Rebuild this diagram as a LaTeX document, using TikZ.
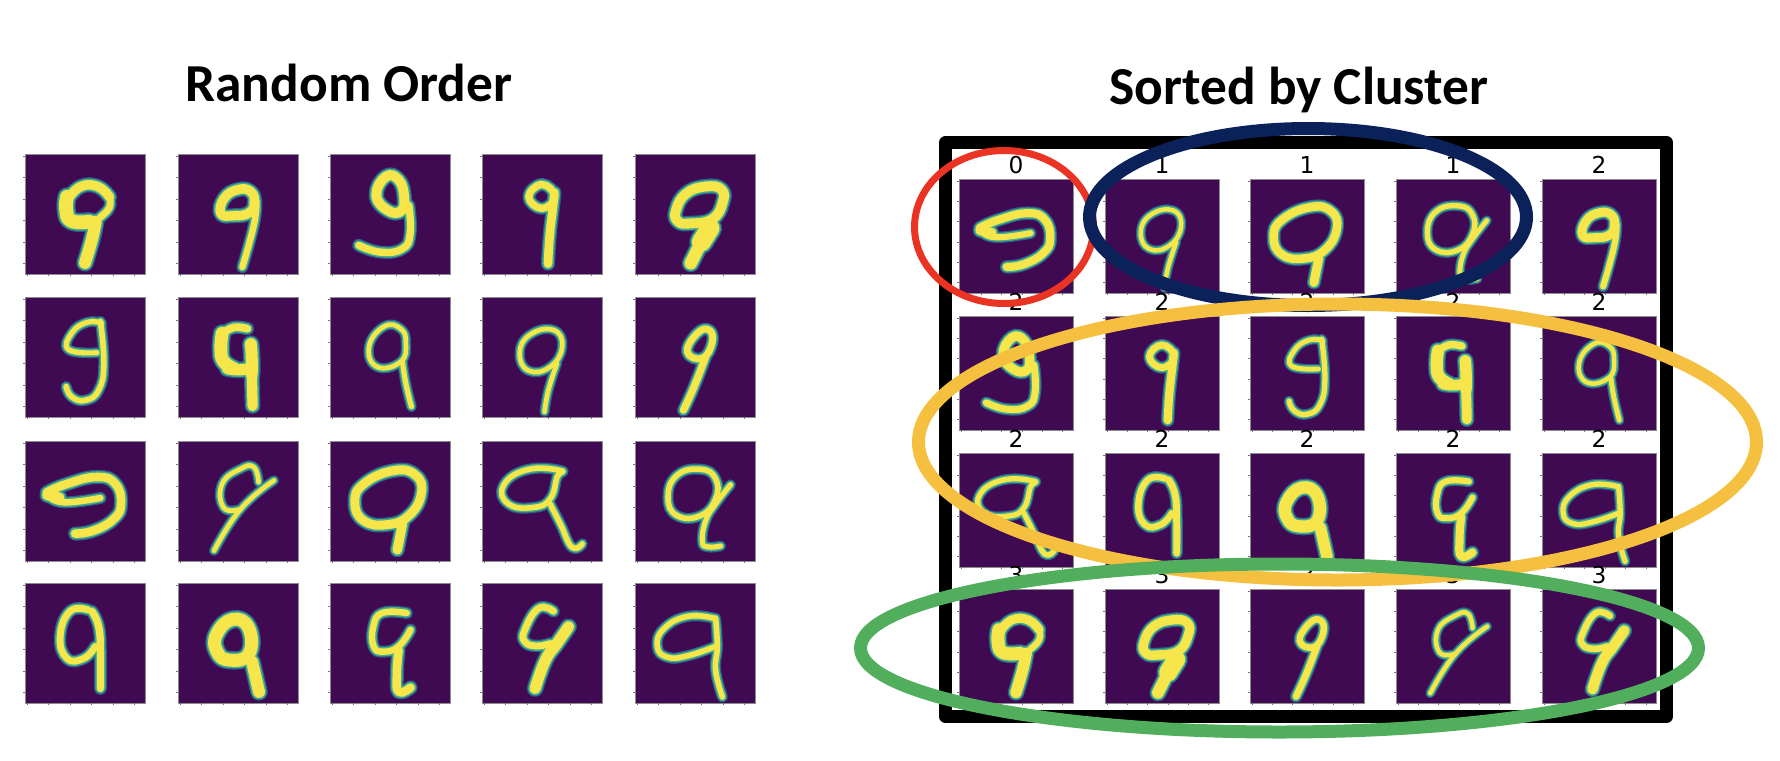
\documentclass[tikz,border=0pt]{standalone}
\usepackage{fontspec}
\setmainfont{Carlito}
\newfontfamily\tickfont{DejaVu Sans}
\definecolor{ninebg}{HTML}{3F0A51}
\definecolor{nineblue}{HTML}{34588C}
\definecolor{nineteal}{HTML}{3FAE8C}
\definecolor{nineyel}{HTML}{F6E64B}
\definecolor{ringred}{HTML}{EA3323}
\definecolor{ringnavy}{HTML}{0A2259}
\definecolor{ringyel}{HTML}{F5C040}
\definecolor{ringgreen}{HTML}{50AE5C}
\tikzset{
  title/.style={font=\fontsize{26.7}{30}\selectfont\bfseries,anchor=base},
  clusterlabel/.style={font=\fontsize{11.65}{14}\selectfont\tickfont,anchor=base,inner sep=0pt},
  ring/.style={line width=6.5pt},
  tickmark/.style={line width=.35pt,color=black!55},
  stroke/.style={line width=(#1+\dgadd)*\cellw,color=\dgcol,line join=round,line cap=round},
}
% one stroke of a digit: width, then points (28 cells a side, y downwards)
\newcommand{\dg}[2]{\draw[stroke=#1] plot[smooth,tension=.8] coordinates {#2};}
% the same, closed
\newcommand{\dgo}[2]{\draw[stroke=#1] plot[smooth cycle,tension=.8] coordinates {#2};}
\newcommand{\digitpanel}[4]{%
  \begin{scope}[shift={(#1,#2)},x=#3/56*1pt,y=-#3/56*1pt]
    \pgfmathsetlengthmacro{\cellw}{#3/56*1pt}
    \fill[ninebg] (0,0) rectangle (28,28);
    \draw[line width=.3pt,color=black!45] (0,0) rectangle (28,28);
    \foreach \k in {.5,5.5,10.5,15.5,20.5,25.5}{
      \draw[tickmark] (\k,28) -- (\k,28.5);
      \draw[tickmark] (0,\k) -- (-.5,\k);
    }
    \begin{scope}
      \clip (0,0) rectangle (28,28);
      \foreach \dgadd/\dgcol in {.3/nineblue,-.3/nineteal,-1/nineyel}{\csname #4\endcsname}
    \end{scope}
  \end{scope}}
% digits, named by row and column of the random grid
\newcommand{\nineaa}{\dg{3.2}{(19.7,10) (17,7.6) (13,7.6) (10,10.5)}\dg{4.2}{(9.8,10) (9.6,13) (10.8,15.6) (15,15.8)}\dg{2.6}{(19.7,10) (19.7,12.5) (17.5,14.8)}\dg{3.8}{(14,25.4) (15.6,20) (16.5,15.8)}}
\newcommand{\nineab}{\dg{2.5}{(15,26.4) (16.6,20.9) (18,15) (18.3,11)}\dgo{3.2}{(10,13.9) (10.8,10.3) (14,8.3) (17,8.8) (17.8,11.5) (16.5,13.8) (13,14.4)}}
\newcommand{\nineac}{\dgo{3.3}{(13.4,13.1) (10.8,9.6) (13,5.3) (16,6) (17.3,10) (16.6,13.3)}\dg{2.7}{(18.4,12) (18.7,18.6) (16.9,22.1) (11.8,22.9) (6.7,21.3)}}
\newcommand{\ninead}{\dgo{2.7}{(14,7.1) (10.9,10) (14,12.7) (17,10)}\dg{3}{(15.4,25.6) (15.8,19) (16.6,12) (16.9,9)}}
\newcommand{\nineae}{\dgo{3.3}{(9.6,13) (12,9.2) (16.5,7.6) (20.2,8.3) (20.4,11.5) (18,15.2) (13,16.2) (10,15.7)}\dg{3.9}{(13,25.5) (15,21.5)}\dg{5.4}{(15.5,20.5) (17.5,17.3)}}
\newcommand{\nineba}{\dg{2.2}{(17.9,6.1) (14.5,5.9) (10.9,8.4) (10.2,12.3) (16.8,13)}\dg{2.3}{(17.6,5.7) (18.4,15.5) (17.2,21.7) (14.1,24.1) (10.9,23.3) (9.6,20.9)}}
\newcommand{\ninebb}{\dg{2.8}{(16.2,7.4) (13,7.1) (10.5,8.5)}\dg{4}{(10.3,8.5) (10,12) (10.6,15) (13,16.7)}\dg{3.6}{(11.5,16.7) (14,17) (17,16.7)}\dg{3.8}{(17,11) (17.2,14) (17.2,18)}\dg{3.4}{(17.2,17) (17.4,25.4)}}
\newcommand{\ninebc}{\dgo{2.1}{(12.6,6.9) (9.1,11.6) (11,16.3) (16.5,15.1) (17.7,10.8) (16.5,7.4)}\dg{2.2}{(16.9,15.1) (17.7,20.2) (19,25.6)}}
\newcommand{\ninebd}{\dgo{2.1}{(16.7,7.7) (11.2,8.8) (8.8,13.1) (10.9,17.2) (15.9,16.3) (18.7,11.6)}\dg{2.1}{(17.5,15.5) (15.5,21.7) (14.6,26.8)}}
\newcommand{\ninebe}{\dgo{2.6}{(17.3,7.7) (14.5,8.5) (12.2,12.8) (15.7,14.3) (18,10.7)}\dg{2.7}{(16.5,13.9) (13.8,20.9) (11.3,26.4)}}
\newcommand{\nineca}{\dg{3}{(5.1,12) (9.8,10) (16.8,8.4) (21.1,10) (22.4,14.7) (20.7,18.2) (16,20.9) (11.7,21.6)}\dg{2.5}{(5.4,12.7) (9,14.3) (17.6,13.3)}\dg{3.4}{(5.2,12.6) (8,13.2)}}
\newcommand{\ninecb}{\dg{2.1}{(8.4,25.6) (14.6,15.9) (22.4,9.2)}\dg{2.1}{(14.6,15.9) (10.7,15.6) (10.3,10) (14.6,6.5) (17.7,6.1) (18.8,9.6)}}
\newcommand{\ninecc}{\dgo{3.1}{(14.9,6.9) (7.9,10) (5.8,14.3) (7.9,18.6) (13.4,19.5) (18.4,17.4) (21.3,12.3) (20,8)}\dg{3.2}{(16.9,19.4) (15.7,25.4)}}
\newcommand{\ninecd}{\dgo{2.3}{(18.3,6.9) (10.5,6.7) (5,10.4) (6.2,14.7) (12,15.5) (15.9,13.5) (17.5,8.4)}\dg{2.3}{(15.9,14.7) (18.3,19.4) (21,24.8) (23.4,24)}}
\newcommand{\ninece}{\dgo{2.3}{(15.3,6.6) (9.8,8) (7.7,13.1) (9.8,17.4) (15.3,17.4) (18.8,13.5) (18.8,8.8)}\dg{2.2}{(22.3,10.2) (18.8,14.7) (16.5,18.6) (15.7,23.3) (16.9,24.7) (20,24.5)}}
\newcommand{\nineda}{\dg{2.6}{(14.8,6.3) (10.5,6.6) (8.2,12.5) (9.8,17.6) (13.7,17.6) (16.4,14.8)}\dg{2.7}{(15.6,6.6) (17.2,10.2) (17.6,16.4) (17.6,24.6)}}
\newcommand{\ninedb}{\dgo{4}{(12.7,8.5) (9,12) (9.1,16) (12,18) (16.5,16.6) (16.5,10.5)}\dg{3.8}{(17.3,18.4) (18.9,25.4)}}
\newcommand{\ninedc}{\dg{2.5}{(17.9,7) (12.2,7) (10.1,10.2) (10.2,14.8) (12.5,16) (16,14.8) (18.8,10.9)}\dg{3}{(16,15.6) (15.6,21.1) (16,25.4) (18.8,24.4)}}
\newcommand{\ninedd}{\dg{2.6}{(16.7,6.6) (13.2,5.9) (10,10.9) (10,13.7) (12.8,14.7) (16,14.1)}\dg{3.6}{(20.2,10.2) (17.5,14.1) (14.8,18) (12.4,24.6)}}
\newcommand{\ninede}{\dg{2.3}{(18.4,8.2) (12.2,7.8) (6.7,10.7) (5.2,14.8) (7.5,17.3) (12.2,17) (18.8,14.8)}\dg{2.3}{(18.8,8.2) (19.2,14.8) (18.8,20.3) (20.4,26.6)}}
\begin{document}
\begin{tikzpicture}[x=.5pt,y=-.5pt]
\useasboundingbox (0,0) rectangle (1780,760);
\node[title] (randomtitle) at (349,101.5) {Random Order};
\node[title] (sortedtitle) at (1299,104) {Sorted by Cluster};
%random grid
\foreach \c/\cx in {a/25,b/178,c/330,d/482,e/635}{
  \foreach \r/\ry in {a/154,b/297,c/441,d/583}{
    \digitpanel{\cx}{\ry}{120}{nine\r\c}
  }
}
%sorted grid
\draw[line width=6.5pt,line join=round] (945.5,142.5) rectangle (1666.5,716.5);
\foreach \cx/\ry/\who/\clu in {959/179/ca/0,1105/179/bd/1,1250/179/cc/1,1396/179/ce/1,1542/179/ab/2,
  959/316/ac/2,1105/316/ad/2,1250/316/ba/2,1396/316/bb/2,1542/316/bc/2,
  959/453/cd/2,1105/453/da/2,1250/453/db/2,1396/453/dc/2,1542/453/de/2,
  959/589/aa/3,1105/589/ae/3,1250/589/be/3,1396/589/cb/3,1542/589/dd/3}{
  \digitpanel{\cx}{\ry}{114}{nine\who}
  \node[clusterlabel] (lab\who) at ({\cx+57},{\ry-6}) {\clu};
}
%clusters
\draw[ring,line width=3.5pt,ringred] (1004,227) ellipse [x radius=89.5,y radius=76.5];
\draw[ring,ringnavy] (1308,217) ellipse [x radius=218.5,y radius=88.5];
\draw[ring,ringyel] (1337.5,442) ellipse [x radius=419,y radius=138];
\draw[ring,ringgreen] (1279.5,648) ellipse [x radius=419,y radius=84];
\end{tikzpicture}
\end{document}
